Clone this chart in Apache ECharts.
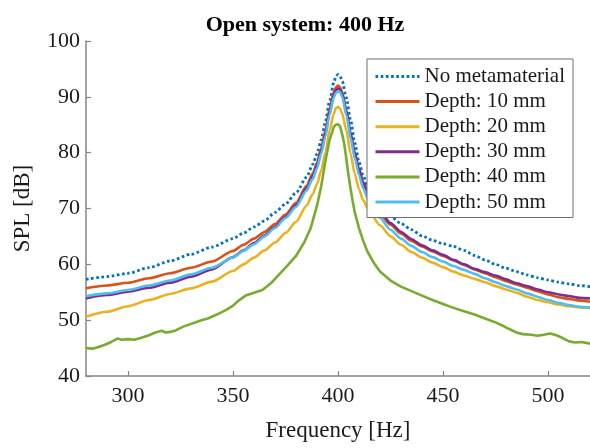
<!DOCTYPE html>
<html>
<head>
<meta charset="utf-8">
<script src="https://cdn.jsdelivr.net/npm/echarts@6/dist/echarts.min.js"></script>
<style>
  html, body { margin: 0; padding: 0; background: #ffffff; }
  #chart { width: 590px; height: 448px; }
</style>
</head>
<body>
<div id="chart"></div>
<script>
// Frequency grid (Hz) shared by the smooth response curves
const freq = [280, 290, 300, 310, 320, 330, 340, 350, 355, 360, 365, 370, 375, 380, 385, 388, 390, 392, 394, 396,
  398, 399, 400, 401, 402, 404, 406, 408, 410, 412, 415, 420, 425, 430, 435, 440, 445, 450, 455, 460,
  465, 470, 475, 480, 485, 490, 495, 500, 505, 510, 515, 520];

// Sound pressure level (dB) for each configuration
const splNoMeta = [57.3, 57.8, 58.4, 59.4, 60.6, 61.8, 63.1, 64.6, 65.6, 66.7, 67.8, 69.3, 70.8, 72.8, 75.6, 77.9, 79.8, 82.3, 85.5, 89.3,
  92.6, 93.6, 94.0, 93.7, 92.8, 89.8, 85.8, 81.8, 78.3, 75.8, 73.2, 70.4, 68.6, 67.3, 66.2, 65.1, 64.3, 63.7, 63.2, 62.5,
  61.6, 60.8, 60.0, 59.3, 58.7, 58.1, 57.6, 57.2, 56.8, 56.5, 56.2, 56.0];
const splDepth10 = [55.7, 56.2, 56.7, 57.5, 58.4, 59.4, 60.5, 62.4, 63.5, 64.6, 65.8, 67.2, 68.9, 71.0, 74.0, 76.3, 78.2, 80.8, 84.0, 87.8,
  90.9, 91.7, 92.0, 91.7, 90.8, 87.5, 83.3, 79.6, 76.6, 74.2, 71.7, 69.0, 67.1, 65.5, 64.2, 63.2, 62.3, 61.5, 60.7, 59.9,
  59.1, 58.4, 57.7, 57.0, 56.4, 55.8, 55.2, 54.6, 54.1, 53.8, 53.5, 53.3];
const splDepth20 = [50.6, 51.5, 52.5, 53.6, 54.7, 55.7, 56.9, 58.8, 60.0, 61.2, 62.5, 63.9, 65.6, 67.6, 70.5, 72.6, 74.4, 76.8, 80.0, 84.0,
  87.0, 88.0, 88.2, 87.9, 87.0, 84.0, 79.8, 76.2, 73.5, 71.5, 69.4, 67.0, 65.0, 63.5, 62.2, 61.2, 60.3, 59.5, 58.7, 58.0,
  57.4, 56.8, 56.1, 55.5, 54.9, 54.2, 53.6, 53.2, 52.8, 52.5, 52.3, 52.2];
const splDepth30 = [53.9, 54.5, 55.1, 55.8, 56.7, 57.8, 59.1, 61.3, 62.5, 63.8, 65.2, 66.7, 68.5, 70.6, 73.6, 75.8, 77.8, 80.4, 83.5, 87.4,
  90.4, 91.2, 91.5, 91.3, 90.5, 87.5, 83.5, 80.0, 77.1, 74.7, 72.2, 69.5, 67.4, 65.8, 64.5, 63.4, 62.5, 61.7, 60.8, 60.0,
  59.2, 58.6, 58.0, 57.3, 56.6, 56.1, 55.5, 55.0, 54.6, 54.3, 54.0, 53.9];
const splDepth50 = [54.3, 54.8, 55.4, 56.2, 57.1, 58.2, 59.4, 61.2, 62.4, 63.6, 65.0, 66.5, 68.3, 70.3, 73.2, 75.3, 77.2, 79.8, 82.9, 86.8,
  89.9, 90.7, 91.0, 90.8, 90.0, 86.7, 82.6, 79.0, 76.0, 73.6, 71.0, 68.3, 66.2, 64.6, 63.3, 62.2, 61.3, 60.5, 59.7, 59.0,
  58.3, 57.5, 56.8, 56.1, 55.5, 54.8, 54.2, 53.6, 53.1, 52.7, 52.4, 52.2];

// The 40 mm measurement is noisier, so it keeps its own denser grid
const freqDepth40 = [280, 283, 286, 289, 292, 295, 297, 300, 303, 306, 310, 313, 316, 318, 320, 323, 326, 329, 332, 335,
  338, 341, 344, 347, 350, 353, 356, 360, 364, 368, 372, 376, 380, 384, 387, 390, 392, 394, 396, 398,
  399, 400, 401, 402, 403, 404, 405, 406, 407, 408, 410, 412, 414, 417, 420, 425, 430, 435, 440, 445,
  450, 455, 460, 465, 470, 475, 478, 481, 485, 488, 492, 495, 498, 501, 504, 507, 510, 513, 516, 520];
const splDepth40 = [45.0, 44.9, 45.2, 45.6, 46.1, 46.7, 46.5, 46.6, 46.5, 46.8, 47.3, 47.8, 48.1, 47.8, 47.9, 48.2, 48.8, 49.2, 49.6, 50.0,
  50.3, 50.8, 51.3, 51.9, 52.6, 53.6, 54.4, 54.9, 55.4, 56.6, 58.2, 59.8, 61.5, 64.0, 66.5, 70.5, 74.0, 78.5, 82.3, 84.6,
  85.0, 85.1, 84.7, 83.3, 81.5, 78.8, 76.0, 73.5, 71.3, 69.3, 66.5, 64.2, 62.3, 60.3, 58.7, 57.1, 56.0, 55.2, 54.4, 53.6,
  52.9, 52.2, 51.6, 51.0, 50.3, 49.6, 49.1, 48.5, 47.8, 47.5, 47.4, 47.2, 47.4, 47.6, 47.3, 46.8, 46.2, 46.0, 46.1, 45.8];

const seriesNames = ['No metamaterial', 'Depth: 10 mm', 'Depth: 20 mm', 'Depth: 30 mm', 'Depth: 40 mm', 'Depth: 50 mm'];
const xTickValues = [300, 350, 400, 450, 500];

const serif = 'Liberation Serif';
const textColor = '#1a1a1a';
const axisColor = '#868686';

function pairs(xs, ys) {
  return xs.map((x, i) => [x, ys[i]]);
}

function lineSeries(name, data, color, extra) {
  return Object.assign({
    name: name,
    type: 'line',
    data: data,
    symbol: 'none',
    smooth: 0.25,
    smoothMonotone: 'x',
    clip: true,
    itemStyle: { color: color },
    lineStyle: { color: color, width: 2.6 },
    emphasis: { disabled: true }
  }, extra || {});
}

const chart = echarts.init(document.getElementById('chart'), null, { renderer: 'canvas' });

chart.setOption({
  animation: false,
  backgroundColor: '#ffffff',
  title: {
    text: 'Open system: 400 Hz',
    left: 300,
    textAlign: 'center',
    top: 9,
    textStyle: { fontFamily: serif, fontSize: 22, fontWeight: 'bold', color: '#000000' }
  },
  grid: { left: 86, right: 0, top: 41, bottom: 72, containLabel: false },
  legend: {
    orient: 'vertical',
    left: 367,
    top: 59,
    padding: [7, 8, 5, 7],
    itemWidth: 44,
    itemHeight: 14,
    itemGap: 4.1,
    backgroundColor: '#ffffff',
    borderColor: '#6e6e6e',
    borderWidth: 1,
    borderRadius: 0,
    selectedMode: false,
    itemStyle: { opacity: 0 },
    lineStyle: { width: 3 },
    data: seriesNames,
    textStyle: { fontFamily: serif, fontSize: 21, lineHeight: 20, color: textColor, padding: [0, 0, 0, 0] }
  },
  xAxis: {
    type: 'value',
    min: 280,
    max: 520,
    name: 'Frequency [Hz]',
    nameLocation: 'middle',
    nameGap: 43,
    nameTextStyle: { fontFamily: serif, fontSize: 23, color: textColor },
    axisLine: { show: true, lineStyle: { color: axisColor, width: 1.5 } },
    axisTick: { show: true, inside: true, length: 5, customValues: xTickValues, lineStyle: { color: axisColor, width: 1.2 } },
    axisLabel: { customValues: xTickValues, margin: 9, fontFamily: serif, fontSize: 22, color: textColor },
    splitLine: { show: false }
  },
  yAxis: {
    type: 'value',
    min: 40,
    max: 100,
    interval: 10,
    name: 'SPL [dB]',
    nameLocation: 'middle',
    nameGap: 52,
    nameTextStyle: { fontFamily: serif, fontSize: 23, color: textColor },
    axisLine: { show: true, lineStyle: { color: axisColor, width: 1.5 } },
    axisTick: { show: true, inside: true, length: 5, lineStyle: { color: axisColor, width: 1.2 } },
    axisLabel: { margin: 6, fontFamily: serif, fontSize: 22, color: textColor },
    splitLine: { show: false }
  },
  series: [
    lineSeries(seriesNames[0], pairs(freq, splNoMeta), '#0072BD', {
      lineStyle: { color: '#0072BD', width: 2.8, type: [2.6, 2.6], cap: 'butt' }
    }),
    lineSeries(seriesNames[1], pairs(freq, splDepth10), '#D95319'),
    lineSeries(seriesNames[2], pairs(freq, splDepth20), '#EDB120'),
    lineSeries(seriesNames[3], pairs(freq, splDepth30), '#7E2F8E'),
    lineSeries(seriesNames[4], pairs(freqDepth40, splDepth40), '#77AC30', { smooth: false }),
    lineSeries(seriesNames[5], pairs(freq, splDepth50), '#4DBEEE')
  ]
});
</script>
</body>
</html>
